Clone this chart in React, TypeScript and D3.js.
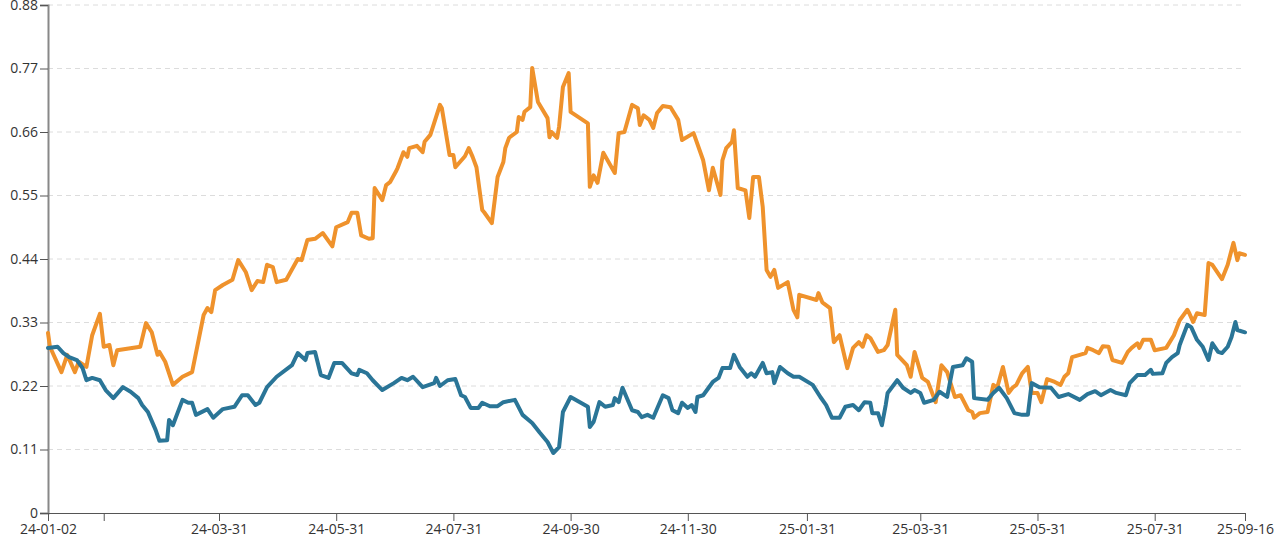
import { useEffect, useRef } from "react"
import * as d3 from "d3"

// orange series
const orangeDates = [
  "2024-01-02","2024-01-03","2024-01-09","2024-01-12","2024-01-16","2024-01-18","2024-01-22","2024-01-25","2024-01-29","2024-01-31",
  "2024-02-03","2024-02-05","2024-02-07","2024-02-19","2024-02-22","2024-02-25","2024-02-28","2024-02-29","2024-03-03","2024-03-07",
  "2024-03-12","2024-03-17","2024-03-23","2024-03-25","2024-03-27","2024-03-29","2024-04-02","2024-04-07","2024-04-10","2024-04-14",
  "2024-04-17","2024-04-20","2024-04-23","2024-04-25","2024-04-28","2024-04-30","2024-05-05","2024-05-11","2024-05-13","2024-05-16",
  "2024-05-20","2024-05-24","2024-05-29","2024-05-31","2024-06-06","2024-06-08","2024-06-11","2024-06-13","2024-06-17","2024-06-19",
  "2024-06-20","2024-06-24","2024-06-26","2024-06-28","2024-07-01","2024-07-02","2024-07-05","2024-07-07","2024-07-08","2024-07-12",
  "2024-07-15","2024-07-16","2024-07-19","2024-07-24","2024-07-25","2024-07-29","2024-07-31","2024-08-01","2024-08-06","2024-08-08",
  "2024-08-10","2024-08-12","2024-08-15","2024-08-16","2024-08-20","2024-08-23","2024-08-26","2024-08-27","2024-08-29","2024-09-02",
  "2024-09-03","2024-09-05","2024-09-06","2024-09-09","2024-09-10","2024-09-13","2024-09-18","2024-09-19","2024-09-20","2024-09-23",
  "2024-09-24","2024-09-26","2024-09-29","2024-09-30","2024-10-09","2024-10-10","2024-10-12","2024-10-14","2024-10-17","2024-10-23",
  "2024-10-25","2024-10-28","2024-11-01","2024-11-04","2024-11-05","2024-11-07","2024-11-10","2024-11-12","2024-11-14","2024-11-17",
  "2024-11-21","2024-11-25","2024-11-27","2024-12-03","2024-12-08","2024-12-11","2024-12-13","2024-12-17","2024-12-18","2024-12-20",
  "2024-12-23","2024-12-24","2024-12-26","2024-12-30","2025-01-01","2025-01-03","2025-01-06","2025-01-08","2025-01-10","2025-01-12",
  "2025-01-14","2025-01-16","2025-01-21","2025-01-24","2025-01-26","2025-01-27","2025-02-05","2025-02-06","2025-02-08","2025-02-12",
  "2025-02-14","2025-02-17","2025-02-21","2025-02-24","2025-02-27","2025-03-01","2025-03-03","2025-03-05","2025-03-09","2025-03-12",
  "2025-03-14","2025-03-18","2025-03-19","2025-03-24","2025-03-26","2025-03-28","2025-04-01","2025-04-04","2025-04-08","2025-04-11",
  "2025-04-14","2025-04-18","2025-04-21","2025-04-25","2025-04-27","2025-04-28","2025-05-01","2025-05-05","2025-05-08","2025-05-10",
  "2025-05-13","2025-05-16","2025-05-18","2025-05-20","2025-05-23","2025-05-26","2025-05-28","2025-05-31","2025-06-02","2025-06-05",
  "2025-06-09","2025-06-12","2025-06-14","2025-06-16","2025-06-18","2025-06-22","2025-06-25","2025-06-26","2025-06-29","2025-07-02",
  "2025-07-04","2025-07-07","2025-07-09","2025-07-14","2025-07-17","2025-07-19","2025-07-22","2025-07-23","2025-07-25","2025-07-29",
  "2025-07-31","2025-08-06","2025-08-10","2025-08-13","2025-08-17","2025-08-18","2025-08-20","2025-08-22","2025-08-26","2025-08-28",
  "2025-08-30","2025-09-04","2025-09-07","2025-09-08","2025-09-10","2025-09-12","2025-09-13","2025-09-16",
]
const orangeValues = [
  0.312,0.288,0.244,0.274,0.244,0.262,0.253,0.308,0.345,0.288,
  0.291,0.256,0.282,0.288,0.329,0.313,0.274,0.279,0.262,0.222,
  0.236,0.244,0.343,0.355,0.348,0.386,0.395,0.404,0.438,0.417,
  0.386,0.402,0.400,0.430,0.426,0.400,0.404,0.440,0.438,0.473,
  0.475,0.485,0.462,0.495,0.504,0.520,0.520,0.481,0.475,0.476,
  0.563,0.542,0.568,0.573,0.591,0.598,0.625,0.617,0.632,0.636,
  0.625,0.643,0.655,0.707,0.701,0.620,0.620,0.599,0.618,0.632,
  0.617,0.599,0.525,0.521,0.502,0.582,0.608,0.632,0.650,0.660,
  0.686,0.681,0.695,0.703,0.771,0.712,0.684,0.651,0.660,0.650,
  0.669,0.738,0.762,0.695,0.675,0.565,0.585,0.572,0.624,0.589,
  0.658,0.660,0.707,0.701,0.672,0.689,0.681,0.667,0.693,0.705,
  0.703,0.681,0.646,0.658,0.611,0.559,0.598,0.551,0.611,0.632,
  0.643,0.663,0.563,0.559,0.511,0.582,0.582,0.530,0.421,0.409,
  0.421,0.390,0.400,0.352,0.339,0.378,0.369,0.381,0.365,0.355,
  0.296,0.308,0.251,0.286,0.296,0.288,0.308,0.303,0.279,0.282,
  0.291,0.352,0.274,0.256,0.236,0.279,0.234,0.227,0.192,0.256,
  0.244,0.201,0.204,0.178,0.175,0.165,0.173,0.175,0.222,0.217,
  0.253,0.208,0.217,0.222,0.242,0.253,0.208,0.208,0.192,0.232,
  0.227,0.222,0.236,0.242,0.270,0.274,0.277,0.286,0.282,0.277,
  0.289,0.288,0.265,0.260,0.279,0.286,0.294,0.286,0.300,0.300,
  0.282,0.286,0.308,0.334,0.352,0.346,0.331,0.346,0.343,0.433,
  0.430,0.405,0.430,0.443,0.468,0.438,0.450,0.447,
]

// blue series
const blueDates = [
  "2024-01-02","2024-01-07","2024-01-10","2024-01-13","2024-01-17","2024-01-20","2024-01-22","2024-01-25","2024-01-29","2024-02-01",
  "2024-02-05","2024-02-10","2024-02-14","2024-02-18","2024-02-20","2024-02-23","2024-02-27","2024-02-29","2024-03-04","2024-03-05",
  "2024-03-07","2024-03-12","2024-03-15","2024-03-17","2024-03-19","2024-03-25","2024-03-28","2024-04-02","2024-04-08","2024-04-12",
  "2024-04-15","2024-04-19","2024-04-21","2024-04-25","2024-04-30","2024-05-08","2024-05-11","2024-05-15","2024-05-16","2024-05-20",
  "2024-05-23","2024-05-27","2024-05-30","2024-06-03","2024-06-08","2024-06-11","2024-06-12","2024-06-16","2024-06-19","2024-06-24",
  "2024-06-30","2024-07-04","2024-07-07","2024-07-10","2024-07-15","2024-07-21","2024-07-22","2024-07-24","2024-07-28","2024-08-01",
  "2024-08-04","2024-08-06","2024-08-09","2024-08-13","2024-08-15","2024-08-19","2024-08-23","2024-08-26","2024-09-01","2024-09-05",
  "2024-09-10","2024-09-14","2024-09-18","2024-09-21","2024-09-24","2024-09-26","2024-09-30","2024-10-09","2024-10-10","2024-10-12",
  "2024-10-15","2024-10-18","2024-10-22","2024-10-23","2024-10-25","2024-10-27","2024-11-01","2024-11-04","2024-11-06","2024-11-09",
  "2024-11-12","2024-11-17","2024-11-20","2024-11-22","2024-11-25","2024-11-27","2024-11-30","2024-12-02","2024-12-04","2024-12-05",
  "2024-12-08","2024-12-13","2024-12-16","2024-12-18","2024-12-22","2024-12-24","2024-12-27","2024-12-31","2025-01-02","2025-01-04",
  "2025-01-08","2025-01-10","2025-01-13","2025-01-14","2025-01-17","2025-01-21","2025-01-24","2025-01-27","2025-02-03","2025-02-07",
  "2025-02-10","2025-02-13","2025-02-17","2025-02-20","2025-02-24","2025-02-27","2025-03-02","2025-03-05","2025-03-06","2025-03-09",
  "2025-03-11","2025-03-13","2025-03-14","2025-03-19","2025-03-22","2025-03-26","2025-03-28","2025-03-31","2025-04-02","2025-04-07",
  "2025-04-10","2025-04-14","2025-04-17","2025-04-22","2025-04-24","2025-04-27","2025-04-28","2025-05-05","2025-05-08","2025-05-11",
  "2025-05-15","2025-05-19","2025-05-23","2025-05-26","2025-05-28","2025-06-01","2025-06-07","2025-06-11","2025-06-16","2025-06-22",
  "2025-06-26","2025-06-30","2025-07-03","2025-07-08","2025-07-11","2025-07-16","2025-07-18","2025-07-22","2025-07-26","2025-07-29",
  "2025-07-30","2025-08-04","2025-08-06","2025-08-09","2025-08-12","2025-08-13","2025-08-17","2025-08-19","2025-08-22","2025-08-25",
  "2025-08-28","2025-08-30","2025-09-02","2025-09-04","2025-09-07","2025-09-09","2025-09-11","2025-09-12","2025-09-16",
]
const blueValues = [
  0.286,0.288,0.277,0.270,0.265,0.251,0.230,0.234,0.230,0.213,
  0.199,0.218,0.210,0.199,0.187,0.175,0.144,0.125,0.126,0.161,
  0.152,0.196,0.191,0.191,0.170,0.180,0.165,0.180,0.184,0.204,
  0.204,0.187,0.191,0.218,0.236,0.256,0.277,0.265,0.277,0.279,
  0.239,0.234,0.260,0.260,0.242,0.239,0.248,0.242,0.230,0.213,
  0.225,0.234,0.230,0.236,0.218,0.225,0.234,0.220,0.230,0.232,
  0.204,0.201,0.182,0.182,0.191,0.185,0.185,0.192,0.196,0.170,
  0.156,0.139,0.123,0.104,0.114,0.175,0.201,0.184,0.149,0.158,
  0.192,0.184,0.187,0.199,0.192,0.217,0.178,0.175,0.166,0.170,
  0.165,0.204,0.199,0.178,0.173,0.191,0.182,0.187,0.175,0.201,
  0.204,0.227,0.234,0.251,0.251,0.274,0.253,0.236,0.242,0.236,
  0.260,0.242,0.244,0.225,0.253,0.242,0.236,0.236,0.222,0.201,
  0.187,0.165,0.165,0.184,0.187,0.178,0.192,0.191,0.173,0.173,
  0.152,0.187,0.208,0.230,0.217,0.208,0.213,0.208,0.191,0.196,
  0.210,0.201,0.253,0.256,0.268,0.262,0.199,0.196,0.208,0.217,
  0.199,0.173,0.170,0.170,0.225,0.218,0.217,0.201,0.206,0.196,
  0.206,0.211,0.204,0.213,0.208,0.204,0.225,0.239,0.239,0.248,
  0.241,0.242,0.260,0.270,0.277,0.291,0.326,0.322,0.300,0.288,
  0.265,0.294,0.279,0.277,0.288,0.305,0.331,0.317,0.313,
]

const yTicks = [0, 0.11, 0.22, 0.33, 0.44, 0.55, 0.66, 0.77, 0.88]
const xTickDates = [
  "2024-01-02","2024-01-31","2024-03-31","2024-05-31","2024-07-31","2024-09-30","2024-11-30",
  "2025-01-31","2025-03-31","2025-05-31","2025-07-31","2025-09-16",
]
const hiddenTickLabels = ["2024-01-31"]

const parse = d3.timeParse("%Y-%m-%d")
const fmt = d3.timeFormat("%y-%m-%d")

export default function App() {
  const svgRef = useRef<SVGSVGElement>(null)

  useEffect(() => {
    if (!svgRef.current) return
    const svg = d3.select(svgRef.current)
    svg.selectAll("*").remove()

    const width = 1280
    const height = 544
    const margin = { top: 5, right: 35, bottom: 31, left: 48 }

    const x = d3.scaleTime()
      .domain([parse("2024-01-02")!, parse("2025-09-16")!])
      .range([margin.left, width - margin.right])
    const y = d3.scaleLinear()
      .domain([0, 0.88])
      .range([height - margin.bottom, margin.top])

    const font = "'Open Sans', 'Noto Sans', sans-serif"

    // dashed grid lines
    svg.append("g")
      .selectAll("line")
      .data(yTicks.filter((t) => t > 0))
      .enter()
      .append("line")
      .attr("x1", margin.left)
      .attr("x2", width - margin.right)
      .attr("y1", (d: number) => y(d))
      .attr("y2", (d: number) => y(d))
      .attr("stroke", "#dcdcdc")
      .attr("stroke-width", 1)
      .attr("stroke-dasharray", "5,4")

    // y axis
    const yAxis = svg.append("g")
      .attr("transform", `translate(${margin.left},0)`)
      .call(d3.axisLeft(y).tickValues(yTicks).tickSize(8).tickPadding(2).tickFormat((d: any) => `${+d}`))
    yAxis.select(".domain").attr("stroke", "#888").attr("stroke-width", 2)
    yAxis.selectAll(".tick line").attr("stroke", "#555")
    yAxis.selectAll("text")
      .attr("fill", "#333")
      .attr("font-size", 14)
      .attr("font-family", font)

    // x axis
    const xAxis = svg.append("g")
      .attr("transform", `translate(0,${height - margin.bottom})`)
      .call(
        d3.axisBottom(x)
          .tickValues(xTickDates.map((s) => parse(s)!))
          .tickSize(8)
          .tickSizeOuter(0)
          .tickPadding(3)
          .tickFormat((d: any) => (hiddenTickLabels.includes(d3.timeFormat("%Y-%m-%d")(d)) ? "" : fmt(d)))
      )
    xAxis.select(".domain").attr("stroke", "#555").attr("stroke-width", 1.2)
    xAxis.selectAll(".tick line").attr("stroke", "#555")
    xAxis.selectAll("text")
      .attr("fill", "#333")
      .attr("font-size", 14)
      .attr("font-family", font)

    const line = d3.line<[Date, number]>()
      .x((d) => x(d[0]))
      .y((d) => y(d[1]))

    const series = [
      { dates: orangeDates, values: orangeValues, color: "#ef922c" },
      { dates: blueDates, values: blueValues, color: "#2a7597" },
    ]

    series.forEach((s) => {
      const pts: [Date, number][] = s.dates.map((dt, i) => [parse(dt)!, s.values[i]])
      svg.append("path")
        .datum(pts)
        .attr("fill", "none")
        .attr("stroke", s.color)
        .attr("stroke-width", 4)
        .attr("stroke-linejoin", "round")
        .attr("stroke-linecap", "round")
        .attr("d", line)
    })
  }, [])

  return (
    <svg
      ref={svgRef}
      width={1280}
      height={544}
      style={{ position: "absolute", left: 0, top: 0, background: "#fff" }}
    />
  )
}
